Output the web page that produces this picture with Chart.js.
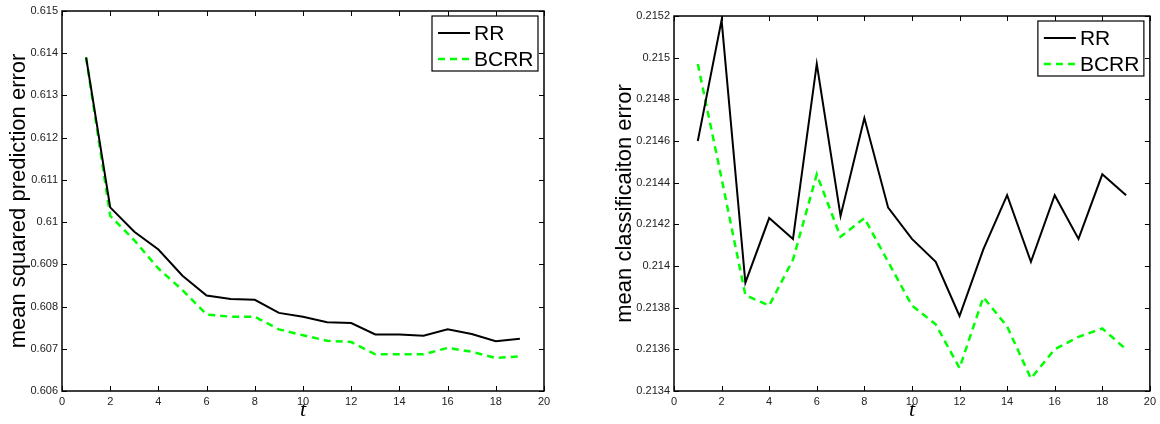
<!DOCTYPE html>
<html>
<head>
<meta charset="utf-8">
<script src="https://cdn.jsdelivr.net/npm/chart.js@4.4.1/dist/chart.umd.min.js"></script>
<style>
body { margin: 0; background: #fff; width: 1160px; height: 424px; position: relative; overflow: hidden; }
.box { position: absolute; top: 0; height: 424px; }
#left { left: 0; width: 580px; }
#right { left: 590px; width: 570px; }
</style>
</head>
<body>
<div class="box" id="left"><canvas id="chartLeft"></canvas></div>
<div class="box" id="right"><canvas id="chartRight"></canvas></div>
<script>
const tValues = [1, 2, 3, 4, 5, 6, 7, 8, 9, 10, 11, 12, 13, 14, 15, 16, 17, 18, 19];

// left panel: mean squared prediction error
const rrMse = [0.6139, 0.61035, 0.60977, 0.60935, 0.60873, 0.60826, 0.60818, 0.60816, 0.60785, 0.60776,
               0.60763, 0.60761, 0.60734, 0.60734, 0.60731, 0.60746, 0.60735, 0.60718, 0.60724];
const bcrrMse = [0.6139, 0.61015, 0.60957, 0.6089, 0.60839, 0.60781, 0.60776, 0.60776, 0.60746, 0.60732,
                 0.60719, 0.60716, 0.60687, 0.60687, 0.60687, 0.60702, 0.60693, 0.60678, 0.60682];

// right panel: mean classification error
const rrCls = [0.2146, 0.21518, 0.21392, 0.21423, 0.21413, 0.21497, 0.21424, 0.21471, 0.21428, 0.21413,
               0.21402, 0.21376, 0.21408, 0.21434, 0.21402, 0.21434, 0.21413, 0.21444, 0.21434];
const bcrrCls = [0.21497, 0.21442, 0.21386, 0.21381, 0.21403, 0.21444, 0.21414, 0.21423, 0.21402, 0.21381,
                 0.21372, 0.21351, 0.21385, 0.21371, 0.21346, 0.2136, 0.21366, 0.2137, 0.2136];

const xTickLabels = ['0', '2', '4', '6', '8', '10', '12', '14', '16', '18', '20'];
const mseTickLabels = ['0.606', '0.607', '0.608', '0.609', '0.61', '0.611', '0.612', '0.613', '0.614', '0.615'];
const clsTickLabels = ['0.2134', '0.2136', '0.2138', '0.214', '0.2142', '0.2144', '0.2146', '0.2148', '0.215', '0.2152'];

const seriesNames = ['RR', 'BCRR'];
const seriesColors = ['#000000', '#00ff00'];

// matlab style box with inward ticks on all four sides
const frameTicks = {
    id: 'frameTicks',
    afterDatasetsDraw(chart) {
        const ctx = chart.ctx;
        const a = chart.chartArea;
        const xs = chart.scales.x;
        const ys = chart.scales.y;
        ctx.save();
        ctx.strokeStyle = '#000';
        ctx.lineWidth = 1;
        ctx.beginPath();
        xs.ticks.forEach(t => {
            const px = Math.round(xs.getPixelForValue(t.value)) + 0.5;
            ctx.moveTo(px, a.bottom); ctx.lineTo(px, a.bottom - 5);
            ctx.moveTo(px, a.top); ctx.lineTo(px, a.top + 5);
        });
        ys.ticks.forEach(t => {
            const py = Math.round(ys.getPixelForValue(t.value)) + 0.5;
            ctx.moveTo(a.left, py); ctx.lineTo(a.left + 5, py);
            ctx.moveTo(a.right, py); ctx.lineTo(a.right - 5, py);
        });
        ctx.stroke();
        ctx.lineWidth = 1.5;
        ctx.strokeRect(a.left, a.top, a.right - a.left, a.bottom - a.top);
        ctx.restore();
    }
};

// legend box in the top right corner of the axes
const boxLegend = {
    id: 'boxLegend',
    afterDraw(chart) {
        const ctx = chart.ctx;
        const a = chart.chartArea;
        const w = 106, h = 55;
        const left = a.right - 6 - w;
        const top = a.top + 5;
        ctx.save();
        ctx.fillStyle = '#fff';
        ctx.fillRect(left, top, w, h);
        ctx.strokeStyle = '#000';
        ctx.lineWidth = 1.2;
        ctx.strokeRect(left, top, w, h);
        ctx.font = '21px "Liberation Sans", Arial, sans-serif';
        ctx.textBaseline = 'middle';
        chart.data.datasets.forEach((ds, i) => {
            const y = top + 17 + i * 26;
            ctx.strokeStyle = ds.borderColor;
            ctx.lineWidth = ds.borderWidth;
            ctx.setLineDash(ds.borderDash || []);
            ctx.beginPath();
            ctx.moveTo(left + 6, y);
            ctx.lineTo(left + 38, y);
            ctx.stroke();
            ctx.setLineDash([]);
            ctx.fillStyle = '#000';
            ctx.fillText(ds.label, left + 42, y + 1);
        });
        ctx.restore();
    }
};

function makeChart(id, rr, bcrr, yLabels, yTitle, yWidth, titlePad, pad) {
    const tickFont = { family: '"Liberation Sans", Arial, sans-serif', size: 11 };
    new Chart(document.getElementById(id), {
        type: 'line',
        data: {
            datasets: [
                {
                    label: seriesNames[0],
                    data: tValues.map((t, i) => ({ x: t, y: rr[i] })),
                    borderColor: seriesColors[0],
                    borderWidth: 2,
                    pointRadius: 0,
                    tension: 0
                },
                {
                    label: seriesNames[1],
                    data: tValues.map((t, i) => ({ x: t, y: bcrr[i] })),
                    borderColor: seriesColors[1],
                    borderWidth: 2.5,
                    borderDash: [7, 5],
                    pointRadius: 0,
                    tension: 0
                }
            ]
        },
        options: {
            responsive: true,
            maintainAspectRatio: false,
            animation: false,
            layout: { padding: pad },
            plugins: { legend: { display: false }, tooltip: { enabled: false } },
            scales: {
                x: {
                    type: 'linear',
                    min: 0,
                    max: 20,
                    afterBuildTicks: s => { s.ticks = xTickLabels.map(l => ({ value: parseFloat(l) })); },
                    afterFit: s => { s.height = 33; },
                    grid: { display: false, drawTicks: false },
                    border: { display: false },
                    ticks: { font: tickFont, color: '#222', padding: 4, maxRotation: 0, autoSkip: false,
                             callback: (v, i) => xTickLabels[i] },
                    title: {
                        display: true,
                        text: 't',
                        color: '#000',
                        font: { family: '"Liberation Serif", "DejaVu Serif", serif', style: 'italic', size: 22, lineHeight: 1 },
                        padding: { top: 0, bottom: 3 }
                    }
                },
                y: {
                    type: 'linear',
                    min: parseFloat(yLabels[0]),
                    max: parseFloat(yLabels[yLabels.length - 1]),
                    afterBuildTicks: s => { s.ticks = yLabels.map(l => ({ value: parseFloat(l) })); },
                    afterFit: s => { s.width = yWidth; },
                    grid: { display: false, drawTicks: false },
                    border: { display: false },
                    ticks: { font: tickFont, color: '#222', padding: 4, autoSkip: false,
                             callback: (v, i) => yLabels[i] },
                    title: {
                        display: true,
                        text: yTitle,
                        color: '#000',
                        font: { family: '"Liberation Sans", Arial, sans-serif', size: 22 },
                        padding: { top: titlePad, bottom: 0 }
                    }
                }
            }
        },
        plugins: [frameTicks, boxLegend]
    });
}

makeChart('chartLeft', rrMse, bcrrMse, mseTickLabels, 'mean squared prediction error', 62, 6,
          { top: 11, right: 36, bottom: 0, left: 0 });
makeChart('chartRight', rrCls, bcrrCls, clsTickLabels, 'mean classificaiton error', 84, 22,
          { top: 16, right: 9, bottom: 0, left: 0 });
</script>
</body>
</html>
